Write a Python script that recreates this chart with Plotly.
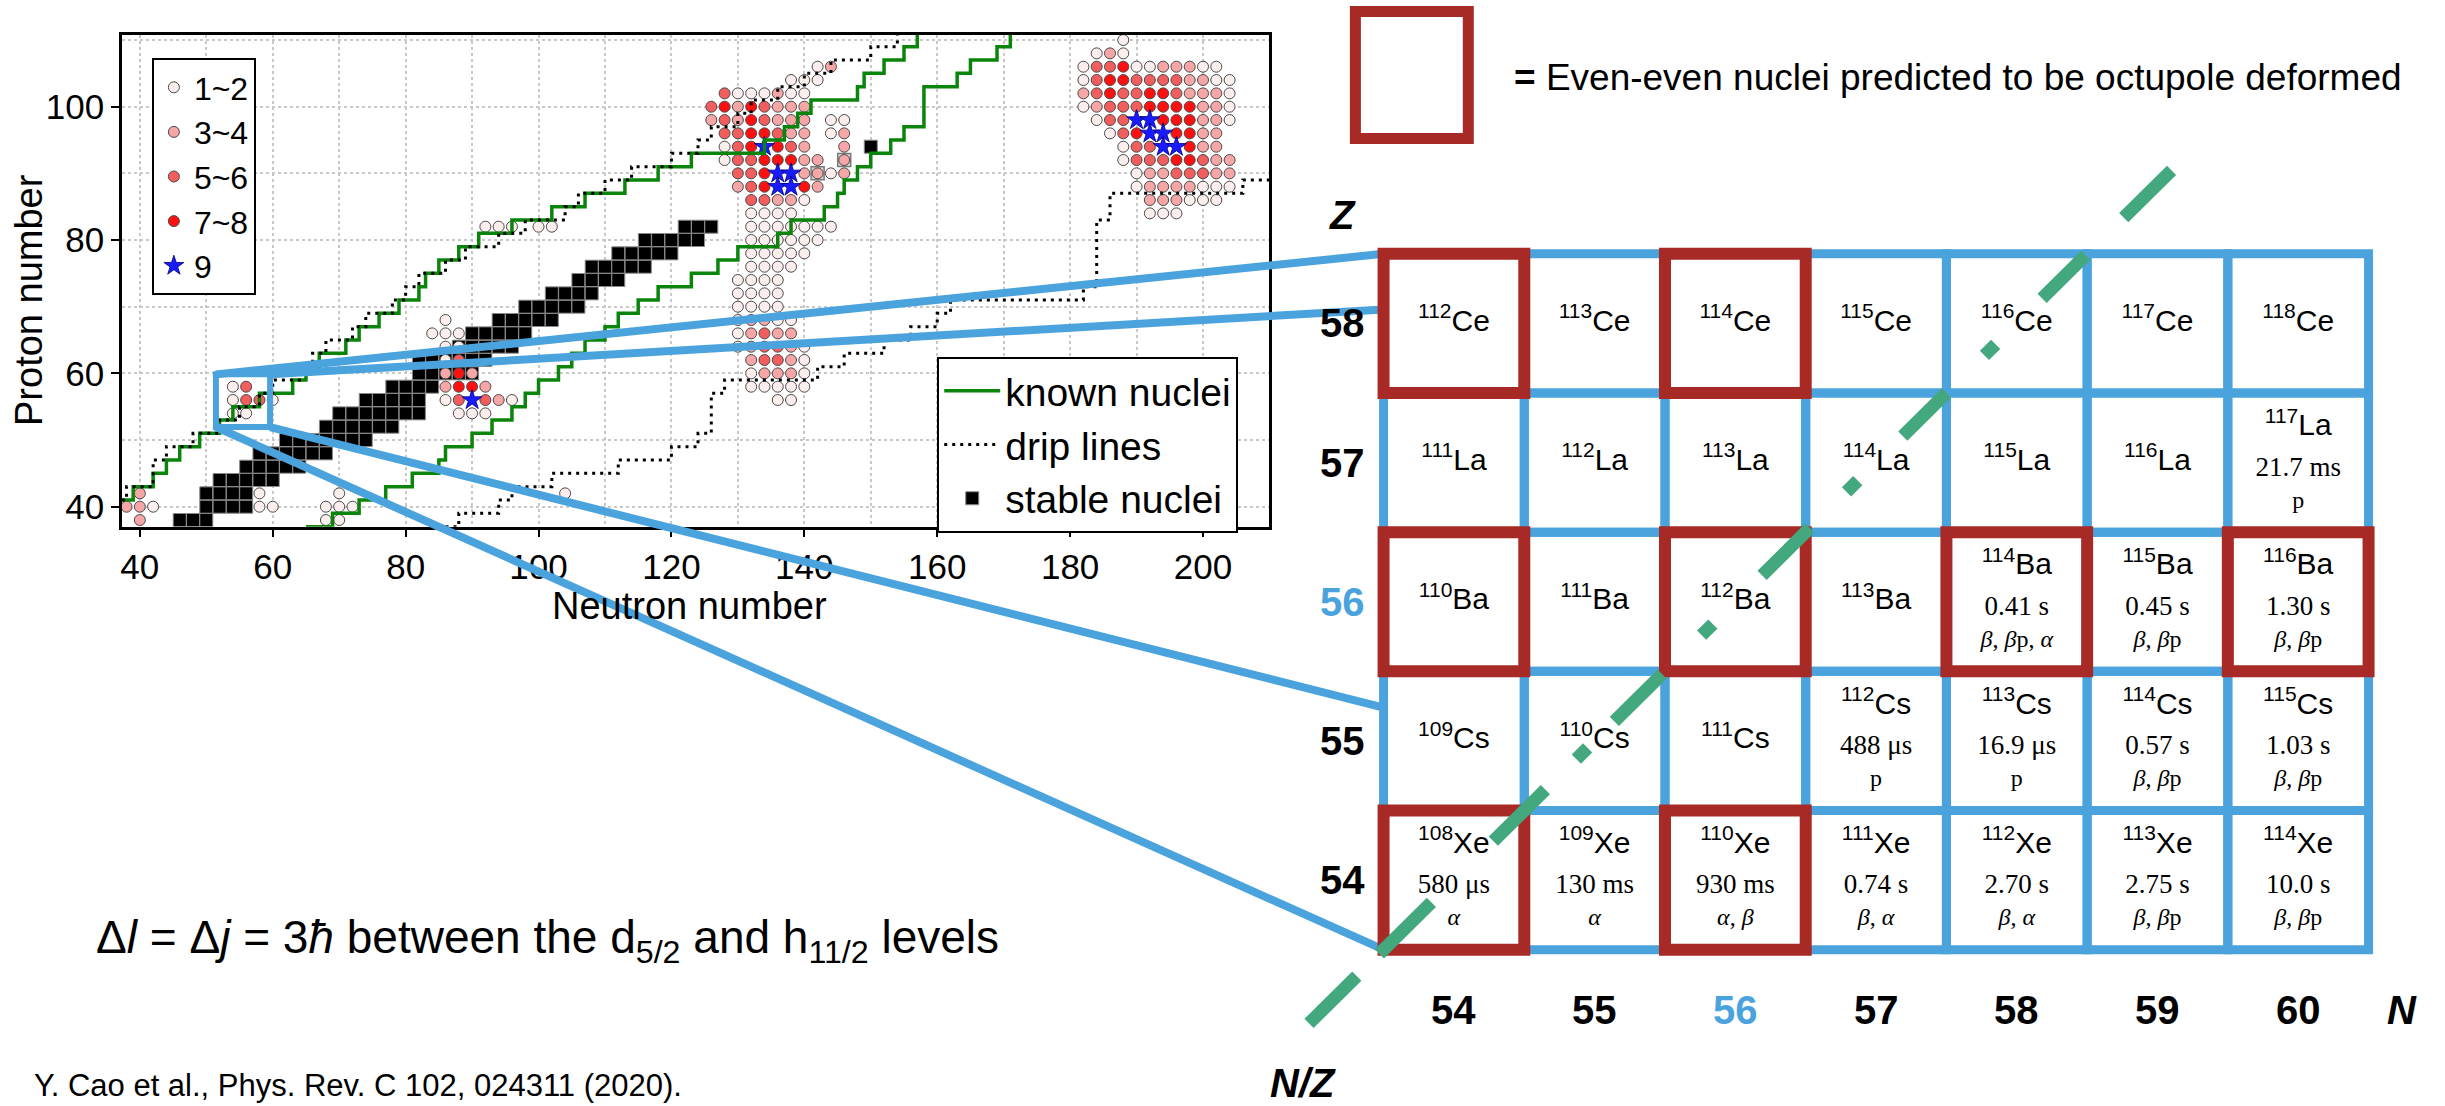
import plotly.graph_objects as go

W, H = 2445, 1106
FONT = "Liberation Sans, Arial, sans-serif"
SERIF = "Liberation Serif, DejaVu Serif, serif"
BLUE = "#4ba3dd"
DARKRED = "#a72a27"
NZGREEN = "#43a87e"

# ------------------------------------------------------------------
# Left panel data
# ------------------------------------------------------------------
CAT_NAMES = ["1~2", "3~4", "5~6", "7~8", "9"]
CAT_CODES = ["1", "2", "3", "4", "5"]
CAT_COLORS = ["#fdeeee", "#f6a6a6", "#f25e5e", "#ff1010", "#1a1aff"]

# (Z, first N, category code for N, N+2, N+4, ...)  '.' = no point
CLUSTER_ROWS = [
    (42, 40, "2"), (40, 38, "221"), (38, 40, "2"),
    (42, 58, "1"), (40, 58, "11"),
    (42, 70, "1"), (40, 68, "111"), (38, 68, "11"),
    (42, 104, "1"),
    (58, 54, "13"), (56, 54, "1331"), (54, 54, "11"),
    (68, 86, "1"), (66, 84, "111"), (64, 86, "11"), (62, 86, "13"),
    (60, 86, "242"), (58, 86, "2442"), (56, 86, "135321"), (54, 88, "111"),
    (82, 92, "111.11"),
    (106, 142, "12"), (104, 138, "111"), (102, 128, "3111211"),
    (100, 126, "34243222"), (98, 126, "23243222.11"), (96, 128, "3344322.12"),
    (94, 128, "1345432..2"), (92, 128, "13344422.2"), (90, 130, "334552212"),
    (88, 130, "2345542"), (86, 132, "33221"), (84, 132, "1111"),
    (82, 132, "1111111"), (80, 132, "111111"), (78, 132, "11111"),
    (76, 132, "1111"), (74, 130, "1111"), (72, 130, "1111"), (70, 130, "1111"),
    (68, 130, "12211"), (66, 130, "12322"), (64, 130, "123321"),
    (62, 132, "23321"), (60, 132, "12221"), (58, 132, "11111"), (56, 136, "11"),
    (110, 188, "1"), (108, 184, "121"), (106, 182, "13341122211"),
    (104, 182, "134433332211"), (102, 182, "234334432221"),
    (100, 182, "123334444221"), (98, 184, "13355444221"), (96, 186, "134554422"),
    (94, 188, "13355422"), (92, 188, "133344322"), (90, 190, "12233322"),
    (88, 190, "12222111"), (86, 192, "222111"), (84, 192, "111"),
]

# stable even-even nuclei: (Z, list of N)
STABLE_ROWS = [
    (38, [46, 48, 50]),
    (40, [50, 52, 54, 56]),
    (42, [50, 52, 54, 56]),
    (44, [52, 54, 56, 58, 60]),
    (46, [56, 58, 60, 62, 64]),
    (48, [58, 60, 62, 64, 66, 68]),
    (50, [62, 64, 66, 68, 70, 72, 74]),
    (52, [68, 70, 72, 74, 76, 78]),
    (54, [70, 72, 74, 76, 78, 80, 82]),
    (56, [74, 76, 78, 80, 82]),
    (58, [78, 80, 82, 84]),
    (60, [82, 84, 86, 88, 90]),
    (62, [82, 84, 86, 88, 90, 92]),
    (64, [88, 90, 92, 94, 96]),
    (66, [90, 92, 94, 96, 98]),
    (68, [94, 96, 98, 100, 102]),
    (70, [98, 100, 102, 104, 106]),
    (72, [102, 104, 106, 108]),
    (74, [106, 108, 110, 112]),
    (76, [108, 110, 112, 114, 116]),
    (78, [112, 114, 116, 118, 120]),
    (80, [116, 118, 120, 122, 124]),
    (82, [122, 124, 126]),
    (94, [150]),
]
LONG_LIVED_N = [142, 146]
LONG_LIVED_Z = [90, 92]

# step lines (hv): N where each vertical step occurs, Z level reached
KNOWN_P_N = [37.3, 39, 42, 44, 46, 49, 52, 54, 58, 63, 65, 67, 71, 73, 76, 79, 82, 83,
             85, 88, 91, 96, 102, 107, 113, 118, 123, 134, 137, 139, 141, 148, 149,
             152, 155, 157]
KNOWN_P_Z = [41, 43, 45, 47, 49, 51, 53, 55, 57, 59, 61, 63, 65, 67, 69, 71, 73, 75,
             77, 79, 81, 83, 85, 87, 89, 91, 93, 95, 97, 99, 101, 103, 105, 107, 109,
             111.5]
KNOWN_N_N = [65, 69, 73, 77, 81, 85, 86, 90, 93, 96, 98, 100, 103, 105, 107, 110, 112,
             115, 118, 123, 127, 130, 136, 138, 143, 145, 146, 148, 150, 153, 155, 158,
             163, 165, 169, 171]
KNOWN_N_Z = [37, 39, 41, 43, 45, 47, 49, 51, 53, 55, 57, 59, 61, 63, 65, 67, 69, 71,
             73, 75, 77, 79, 81, 83, 85, 87, 89, 91, 93, 95, 97, 103, 105, 107, 109,
             111.5]
DRIP_P_N = [37.3, 38, 42, 44, 48, 52, 55, 58, 60, 64, 66, 68, 72, 74, 78, 80, 82, 86,
            89, 94, 98, 104, 106, 110, 114, 120, 124, 126, 130, 132, 136, 140, 144,
            150, 154]
DRIP_P_Z = [41, 43, 47, 49, 51, 53, 55, 57, 59, 61, 63, 65, 67, 69, 71, 73, 75, 77,
            79, 81, 83, 85, 87, 89, 91, 93, 95, 97, 99, 101, 103, 105, 107, 109, 111.5]
DRIP_N_N = [86, 88, 94, 96, 102, 112, 120, 124, 126, 128, 142, 146, 152, 156, 160,
            162, 182, 184, 186, 206, 210.5]
DRIP_N_Z = [37, 39, 41, 43, 45, 47, 49, 51, 57, 59, 61, 63, 65, 67, 69, 71, 73, 83,
            87, 89, 89]

X_TICKS = [40, 60, 80, 100, 120, 140, 160, 180, 200]
X_GRID = [40, 50, 60, 70, 80, 90, 100, 110, 120, 130, 140, 150, 160, 170, 180, 190, 200, 210]
Y_TICKS = [40, 60, 80, 100]
Y_GRID = [40, 50, 60, 70, 80, 90, 100, 110]

X1_RANGE = [37.3, 210.0]
Y1_RANGE = [37.0, 110.8]
ZOOM_BOX_N = [51.45, 59.6]
ZOOM_BOX_Z = [51.95, 59.85]

# ------------------------------------------------------------------
# Right panel data
# ------------------------------------------------------------------
TABLE_N = [54, 55, 56, 57, 58, 59, 60]
TABLE_Z = [58, 57, 56, 55, 54]
ELEMENT = {58: "Ce", 57: "La", 56: "Ba", 55: "Cs", 54: "Xe"}
DECAY_INFO = {
    (60, 57): ("21.7 ms", "p"),
    (58, 56): ("0.41 s", "β, βp, α"),
    (59, 56): ("0.45 s", "β, βp"),
    (60, 56): ("1.30 s", "β, βp"),
    (57, 55): ("488 μs", "p"),
    (58, 55): ("16.9 μs", "p"),
    (59, 55): ("0.57 s", "β, βp"),
    (60, 55): ("1.03 s", "β, βp"),
    (54, 54): ("580 μs", "α"),
    (55, 54): ("130 ms", "α"),
    (56, 54): ("930 ms", "α, β"),
    (57, 54): ("0.74 s", "β, α"),
    (58, 54): ("2.70 s", "β, α"),
    (59, 54): ("2.75 s", "β, βp"),
    (60, 54): ("10.0 s", "β, βp"),
}
OCTUPOLE = [(54, 58), (56, 58), (54, 56), (56, 56), (58, 56), (60, 56), (54, 54), (56, 54)]
HIGHLIGHT = 56
# dash segments along the N = Z line (start, end)
NZ_DASHES = [(52.97, 53.31), (53.47, 53.84), (54.28, 54.65), (54.87, 54.95),
             (55.14, 55.48), (55.76, 55.84), (56.19, 56.53), (56.79, 56.87),
             (57.19, 57.50), (57.77, 57.85), (58.18, 58.49), (58.76, 59.10)]

# ------------------------------------------------------------------
# Layout geometry (pixels)
# ------------------------------------------------------------------
AX1_PX = dict(left=120.0, right=1268.5, top=34.7, bottom=526.7)
GRID_PX = dict(left=1382.7, right=2368.5, top=253.8, bottom=949.7)
CELL_W = (GRID_PX["right"] - GRID_PX["left"]) / len(TABLE_N)
CELL_H = (GRID_PX["bottom"] - GRID_PX["top"]) / len(TABLE_Z)
X2_RANGE = [52.8, 61.0]
Y2_RANGE = [52.5, 59.3]
ax2_left = GRID_PX["left"] - (53.5 - X2_RANGE[0]) * CELL_W
ax2_right = GRID_PX["right"] + (X2_RANGE[1] - 60.5) * CELL_W
ax2_bottom = GRID_PX["bottom"] + (53.5 - Y2_RANGE[0]) * CELL_H
ax2_top = GRID_PX["top"] - (Y2_RANGE[1] - 58.5) * CELL_H


def p1(n, z):
    """data of the left axes -> paper coords"""
    x = AX1_PX["left"] + (n - X1_RANGE[0]) / (X1_RANGE[1] - X1_RANGE[0]) * (AX1_PX["right"] - AX1_PX["left"])
    y = AX1_PX["bottom"] - (z - Y1_RANGE[0]) / (Y1_RANGE[1] - Y1_RANGE[0]) * (AX1_PX["bottom"] - AX1_PX["top"])
    return x / W, 1 - y / H


def p2(n, z):
    x = ax2_left + (n - X2_RANGE[0]) * CELL_W
    y = ax2_bottom - (z - Y2_RANGE[0]) * CELL_H
    return x / W, 1 - y / H


fig = go.Figure()

# stable nuclei squares
sx, sy = [], []
for z, ns in STABLE_ROWS:
    for n in ns:
        sx.append(n)
        sy.append(z)
fig.add_trace(go.Scatter(
    x=sx, y=sy, mode="markers", name="stable nuclei", legend="legend2", legendrank=3,
    marker=dict(symbol="square", size=13, color="black", line=dict(color="#8a8a8a", width=1)),
    hoverinfo="skip"))
fig.add_trace(go.Scatter(
    x=LONG_LIVED_N, y=LONG_LIVED_Z, mode="markers", showlegend=False,
    marker=dict(symbol="square", size=13, color="#d9d9d9", line=dict(color="#7a7a7a", width=1.5)),
    hoverinfo="skip"))

# octupole-correlation categories
pts = {c: ([], []) for c in CAT_CODES}
for z, n0, codes in CLUSTER_ROWS:
    for k, c in enumerate(codes):
        if c in pts:
            pts[c][0].append(n0 + 2 * k)
            pts[c][1].append(z)
for i, c in enumerate(CAT_CODES):
    if c == "5":
        mk = dict(symbol="star", size=15, color=CAT_COLORS[i], line=dict(color="#00007a", width=0.8))
    else:
        mk = dict(symbol="circle", size=11, color=CAT_COLORS[i], line=dict(color="#4a4a4a", width=1))
    fig.add_trace(go.Scatter(x=pts[c][0], y=pts[c][1], mode="markers", name=CAT_NAMES[i],
                             legend="legend", legendrank=i + 1, marker=mk, hoverinfo="skip"))

# known nuclei (green) and drip lines (dotted)
fig.add_trace(go.Scatter(
    x=KNOWN_P_N + [None] + KNOWN_N_N, y=KNOWN_P_Z + [None] + KNOWN_N_Z,
    mode="lines", line=dict(color="#0b840b", width=3.5, shape="hv"),
    name="known nuclei", legend="legend2", legendrank=1, hoverinfo="skip"))
fig.add_trace(go.Scatter(
    x=DRIP_P_N + [None] + DRIP_N_N, y=DRIP_P_Z + [None] + DRIP_N_Z,
    mode="lines", line=dict(color="black", width=3, shape="hv", dash="3px,5px"),
    name="drip lines", legend="legend2", legendrank=2, hoverinfo="skip"))

# right panel texts (cells)
nx, ny, nt = [], [], []
hx, hy, ht = [], [], []
dx, dy, dt = [], [], []
for z in TABLE_Z:
    for n in TABLE_N:
        info = DECAY_INFO.get((n, z))
        nx.append(n)
        ny.append(z + (0.25 if info else 0.0))
        nt.append(f"<sup>{n + z}</sup>{ELEMENT[z]}")
        if info:
            hx.append(n)
            hy.append(z - 0.045)
            ht.append(info[0])
            dx.append(n)
            dy.append(z - 0.28)
            dt.append(info[1].replace("β", "<i>β</i>").replace("α", "<i>α</i>"))
fig.add_trace(go.Scatter(x=nx, y=ny, text=nt, mode="text", xaxis="x2", yaxis="y2",
                         textfont=dict(family=FONT, size=30, color="black"),
                         showlegend=False, hoverinfo="skip"))
fig.add_trace(go.Scatter(x=hx, y=hy, text=ht, mode="text", xaxis="x2", yaxis="y2",
                         textfont=dict(family=SERIF, size=27, color="black"),
                         showlegend=False, hoverinfo="skip"))
fig.add_trace(go.Scatter(x=dx, y=dy, text=dt, mode="text", xaxis="x2", yaxis="y2",
                         textfont=dict(family=SERIF, size=24, color="black"),
                         showlegend=False, hoverinfo="skip"))

shapes = []
# zoom box on the chart
shapes.append(dict(type="rect", xref="x", yref="y", x0=ZOOM_BOX_N[0], x1=ZOOM_BOX_N[1],
                   y0=ZOOM_BOX_Z[0], y1=ZOOM_BOX_Z[1], line=dict(color=BLUE, width=6), layer="above"))
# connecting lines box -> table
links = [((ZOOM_BOX_N[0], ZOOM_BOX_Z[1]), (53.5, 58.5)),
         ((ZOOM_BOX_N[1], ZOOM_BOX_Z[1]), (53.5, 58.1)),
         ((ZOOM_BOX_N[1], ZOOM_BOX_Z[0]), (53.5, 55.24)),
         ((ZOOM_BOX_N[0], ZOOM_BOX_Z[0]), (53.5, 53.5))]
for a, b in links:
    xa, ya = p1(*a)
    xb, yb = p2(*b)
    shapes.append(dict(type="line", xref="paper", yref="paper", x0=xa, y0=ya, x1=xb, y1=yb,
                       line=dict(color=BLUE, width=8), layer="above"))
# table cells
for z in TABLE_Z:
    for n in TABLE_N:
        shapes.append(dict(type="rect", xref="x2", yref="y2", x0=n - 0.5, x1=n + 0.5,
                           y0=z - 0.5, y1=z + 0.5, line=dict(color=BLUE, width=9), layer="above"))
for n, z in OCTUPOLE:
    shapes.append(dict(type="rect", xref="x2", yref="y2", x0=n - 0.5, x1=n + 0.5,
                       y0=z - 0.5, y1=z + 0.5, line=dict(color=DARKRED, width=12), layer="above"))
for a, b in NZ_DASHES:
    shapes.append(dict(type="line", xref="x2", yref="y2", x0=a, y0=a, x1=b, y1=b,
                       line=dict(color=NZGREEN, width=13), layer="above"))
# legend box for octupole-deformed
shapes.append(dict(type="rect", xref="paper", yref="paper", x0=1354.5 / W, x1=1467.5 / W,
                   y0=1 - 138.5 / H, y1=1 - 11.5 / H, line=dict(color=DARKRED, width=11)))

ann = []
for z in TABLE_Z:
    ann.append(dict(xref="x2", yref="y2", x=53.21, y=z, text=f"<b>{z}</b>", showarrow=False,
                    xanchor="center", yanchor="middle",
                    font=dict(family=FONT, size=40, color=BLUE if z == HIGHLIGHT else "black")))
for n in TABLE_N:
    ann.append(dict(xref="x2", yref="y2", x=n, y=53.07, text=f"<b>{n}</b>", showarrow=False,
                    xanchor="center", yanchor="middle",
                    font=dict(family=FONT, size=40, color=BLUE if n == HIGHLIGHT else "black")))
ann.append(dict(xref="x2", yref="y2", x=53.21, y=58.78, text="<b><i>Z</i></b>", showarrow=False,
                xanchor="center", yanchor="middle",
                font=dict(family=FONT, size=40, color="black")))
ann.append(dict(xref="x2", yref="y2", x=60.74, y=53.07, text="<b><i>N</i></b>", showarrow=False,
                xanchor="center", yanchor="middle",
                font=dict(family=FONT, size=40, color="black")))
ann.append(dict(xref="x2", yref="y2", x=52.93, y=52.54, text="<b><i>N/Z</i></b>", showarrow=False,
                xanchor="center", yanchor="middle",
                font=dict(family=FONT, size=40, color="black")))
ann.append(dict(xref="paper", yref="paper", x=1511 / W, y=1 - 77.5 / H, xanchor="left",
                yanchor="middle", showarrow=False,
                text="<b>=</b> Even-even nuclei predicted to be octupole deformed",
                font=dict(family=FONT, size=37, color="black")))
ann.append(dict(xref="paper", yref="paper", x=92 / W, y=1 - 940 / H, xanchor="left",
                yanchor="middle", showarrow=False,
                text="Δ<i>l</i> = Δ<i>j</i> = 3<i>ħ</i> between the d<sub>5/2</sub> and h<sub>11/2</sub> levels",
                font=dict(family=FONT, size=46, color="black")))
ann.append(dict(xref="paper", yref="paper", x=30 / W, y=1 - 1085 / H, xanchor="left",
                yanchor="middle", showarrow=False,
                text="Y. Cao et al., Phys. Rev. C 102, 024311 (2020).",
                font=dict(family=FONT, size=31, color="black")))
ann.append(dict(xref="paper", yref="paper", x=27 / W, y=1 - 300 / H, textangle=-90,
                xanchor="center", yanchor="middle",
                showarrow=False, text="Proton number",
                font=dict(family=FONT, size=38, color="black")))
ann.append(dict(xref="paper", yref="paper", x=688 / W, y=1 - 606 / H, showarrow=False,
                xanchor="center", yanchor="middle",
                text="Neutron number", font=dict(family=FONT, size=38, color="black")))

axis_common = dict(ticks="outside", ticklen=8, tickwidth=2, tickcolor="black",
                   showline=True, linewidth=2.5, linecolor="black", mirror=True,
                   showgrid=True, gridcolor="#c8c8c8", griddash="dot", gridwidth=1.5,
                   zeroline=False, tickfont=dict(family=FONT, size=35, color="black"))

fig.update_layout(
    width=W, height=H, margin=dict(l=0, r=0, t=0, b=0),
    paper_bgcolor="white", plot_bgcolor="white", hovermode=False,
    xaxis=dict(domain=[AX1_PX["left"] / W, AX1_PX["right"] / W], range=X1_RANGE,
               tickmode="array", tickvals=X_TICKS,
               minor=dict(tickvals=X_GRID, showgrid=True, gridcolor="#c8c8c8",
                          griddash="dot", gridwidth=1.5, ticks=""),
               **axis_common),
    yaxis=dict(domain=[1 - AX1_PX["bottom"] / H, 1 - AX1_PX["top"] / H], range=Y1_RANGE,
               tickmode="array", tickvals=Y_TICKS,
               minor=dict(tickvals=Y_GRID, showgrid=True, gridcolor="#c8c8c8",
                          griddash="dot", gridwidth=1.5, ticks=""),
               **axis_common),
    xaxis2=dict(domain=[ax2_left / W, ax2_right / W], range=X2_RANGE, visible=False,
                anchor="y2", showgrid=False, zeroline=False),
    yaxis2=dict(domain=[1 - ax2_bottom / H, 1 - ax2_top / H], range=Y2_RANGE, visible=False,
                anchor="x2", showgrid=False, zeroline=False),
    legend=dict(x=150 / W, y=1 - 58 / H, xanchor="left", yanchor="top",
                bordercolor="black", borderwidth=2, bgcolor="white",
                font=dict(family=FONT, size=32, color="black"),
                itemsizing="trace", tracegroupgap=0),
    legend2=dict(x=936 / W, y=1 - 357 / H, xanchor="left", yanchor="top",
                 bordercolor="black", borderwidth=2, bgcolor="white",
                 font=dict(family=FONT, size=39, color="black"),
                 itemsizing="trace", itemwidth=56, tracegroupgap=0),
    shapes=shapes, annotations=ann,
)

fig.write_html("out.html", config={"displayModeBar": False},
               post_script="document.body.style.margin='0';document.body.style.overflow='hidden';")
